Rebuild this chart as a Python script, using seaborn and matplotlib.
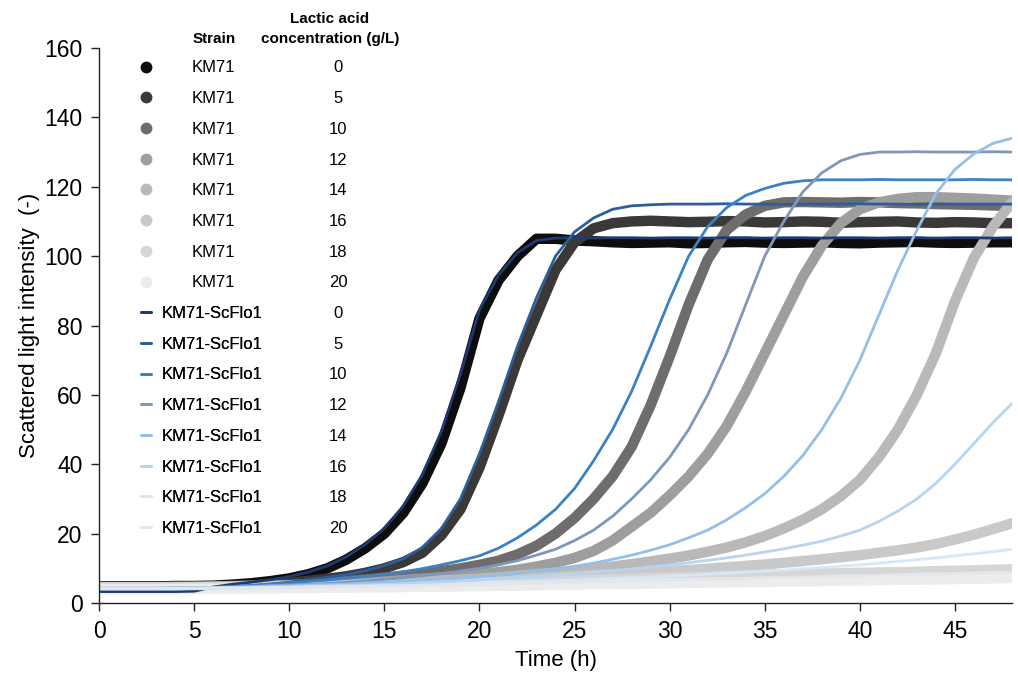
import matplotlib
matplotlib.use("Agg")
import matplotlib.pyplot as plt
from matplotlib.lines import Line2D
import pandas as pd
import seaborn as sns

# ---------------- data ----------------
time_h = list(range(0, 49))
concentrations = [0, 5, 10, 12, 14, 16, 18, 20]

km71_0 = [4.8, 4.8, 4.8, 4.8, 4.9, 4.9, 5.0, 5.3, 5.7, 6.3, 7.1, 8.3, 10.0, 12.5, 15.8, 20.0, 26.0, 34.5, 46.0, 62.0,
          82.0, 93.0, 100.0, 105.0, 105.0, 104.5, 104.3, 104.0, 103.8, 103.9, 104.0, 103.7, 103.8, 104.0, 104.1, 103.9,
          103.8, 103.9, 104.0, 103.8, 103.7, 103.9, 104.0, 104.1, 103.9, 103.8, 103.9, 104.0, 104.0]
km71_5 = [4.6, 4.6, 4.6, 4.6, 4.7, 4.7, 4.8, 4.9, 5.1, 5.4, 5.8, 6.4, 7.0, 7.7, 8.7, 10.0, 11.8, 14.5, 19.5, 27.0,
          39.0, 54.0, 70.0, 83.0, 96.0, 104.0, 108.0, 109.5, 110.0, 110.2, 110.0, 109.8, 109.9, 110.1, 110.0, 109.7,
          109.8, 110.0, 109.9, 109.6, 109.8, 109.9, 110.0, 109.7, 109.6, 109.8, 109.7, 109.5, 109.5]
km71_10 = [4.6, 4.6, 4.6, 4.6, 4.7, 4.7, 4.8, 4.9, 5.0, 5.1, 5.2, 5.5, 5.9, 6.3, 6.8, 7.3, 7.9, 8.5, 9.2, 10.0,
           11.0, 12.2, 14.0, 16.5, 20.0, 24.5, 30.0, 36.5, 45.0, 57.0, 71.0, 86.0, 99.0, 107.5, 112.0, 114.5,
           115.5, 115.6, 115.5, 115.4, 115.6, 115.5, 115.3, 115.2, 115.0, 114.9, 114.8, 114.6, 114.5]
km71_12 = [4.5, 4.5, 4.5, 4.5, 4.6, 4.6, 4.7, 4.8, 4.9, 5.0, 5.1, 5.2, 5.3, 5.6, 5.9, 6.2, 6.6, 7.0, 7.4, 7.8,
           8.3, 8.9, 9.6, 10.5, 11.6, 13.0, 15.0, 18.0, 22.0, 26.0, 31.0, 36.5, 43.0, 51.0, 61.0, 72.0,
           83.0, 94.0, 103.0, 109.5, 113.5, 115.5, 116.5, 117.0, 117.0, 116.8, 116.6, 116.3, 116.0]
km71_14 = [4.5, 4.5, 4.5, 4.5, 4.5, 4.6, 4.6, 4.7, 4.8, 4.9, 5.0, 5.0, 5.1, 5.3, 5.5, 5.7, 5.9, 6.2, 6.5, 6.7,
           7.0, 7.4, 7.9, 8.3, 8.8, 9.3, 9.9, 10.5, 11.2, 12.0, 12.8, 13.7, 14.8, 16.0, 17.5, 19.3,
           21.5, 24.0, 27.0, 30.8, 35.5, 42.0, 50.0, 60.0, 72.0, 87.0, 99.5, 108.5, 115.5]
km71_16 = [4.5, 4.5, 4.5, 4.5, 4.5, 4.5, 4.6, 4.6, 4.7, 4.8, 4.8, 4.9, 5.0, 5.0, 5.1, 5.2, 5.3, 5.5, 5.7, 5.9,
           6.2, 6.5, 6.8, 7.1, 7.4, 7.7, 8.0, 8.3, 8.6, 8.9, 9.2, 9.5, 9.9, 10.3, 10.7, 11.1,
           11.6, 12.1, 12.6, 13.2, 13.8, 14.5, 15.2, 16.0, 17.0, 18.3, 19.7, 21.3, 23.0]
km71_18 = [4.5, 4.5, 4.5, 4.5, 4.5, 4.5, 4.6, 4.6, 4.7, 4.7, 4.8, 4.8, 4.9, 5.0, 5.1, 5.1, 5.2, 5.3, 5.5, 5.6,
           5.8, 5.9, 6.1, 6.2, 6.4, 6.5, 6.7, 6.8, 7.0, 7.2, 7.3, 7.5, 7.6, 7.8, 7.9, 8.1,
           8.2, 8.3, 8.5, 8.6, 8.7, 8.8, 8.9, 9.0, 9.2, 9.3, 9.4, 9.6, 9.7]
km71_20 = [4.0, 4.0, 4.0, 4.0, 4.0, 4.1, 4.1, 4.1, 4.2, 4.2, 4.3, 4.3, 4.4, 4.4, 4.5, 4.5, 4.6, 4.7, 4.7, 4.8,
           4.9, 4.9, 5.0, 5.1, 5.2, 5.3, 5.4, 5.4, 5.5, 5.6, 5.7, 5.8, 5.9, 5.9, 6.0, 6.1,
           6.2, 6.2, 6.3, 6.4, 6.5, 6.6, 6.7, 6.7, 6.8, 6.9, 7.0, 7.1, 7.2]

scflo1_0 = [3.3, 3.3, 3.3, 3.3, 3.3, 3.4, 4.6, 5.4, 6.0, 6.7, 7.6, 8.9, 10.7, 13.3, 16.9, 21.5, 28.0, 37.0, 49.5, 66.0,
            84.5, 94.5, 101.0, 104.5, 105.2, 105.3, 105.2, 105.3, 105.3, 105.2, 105.3, 105.3, 105.2, 105.3, 105.3, 105.2,
            105.3, 105.3, 105.2, 105.3, 105.3, 105.2, 105.3, 105.3, 105.2, 105.3, 105.3, 105.2, 105.3]
scflo1_5 = [4.0, 4.0, 4.0, 4.0, 4.0, 4.1, 4.3, 4.6, 5.0, 5.5, 6.0, 6.7, 7.4, 8.2, 9.3, 10.8, 12.8, 16.0, 21.5, 30.0,
            43.0, 58.0, 74.0, 88.0, 100.0, 107.0, 111.0, 113.5, 114.5, 114.8, 115.0, 115.0, 115.0, 115.1, 115.0, 115.0,
            114.9, 115.0, 115.0, 115.0, 115.1, 115.0, 115.0, 114.9, 115.0, 115.0, 115.0, 115.0, 115.0]
scflo1_10 = [4.2, 4.2, 4.2, 4.2, 4.3, 4.3, 4.5, 4.8, 5.1, 5.4, 5.8, 6.2, 6.6, 7.1, 7.6, 8.2, 9.0, 9.9, 11.0, 12.2,
             13.6, 15.8, 18.8, 22.5, 27.0, 33.0, 41.0, 50.0, 61.0, 74.0, 87.5, 100.0, 108.5, 114.0, 117.5, 119.5,
             121.0, 121.7, 122.0, 122.0, 122.0, 122.1, 122.0, 122.0, 122.0, 122.0, 122.1, 122.0, 122.0]
scflo1_12 = [4.3, 4.3, 4.3, 4.3, 4.4, 4.4, 4.5, 4.6, 4.8, 5.0, 5.2, 5.4, 5.6, 6.0, 6.4, 6.8, 7.3, 7.9, 8.5, 9.2,
             10.0, 11.0, 12.2, 13.8, 15.5, 18.0, 21.0, 25.0, 30.0, 35.5, 42.0, 50.0, 60.0, 72.0, 86.0, 100.0,
             110.0, 118.5, 124.0, 127.5, 129.3, 130.0, 130.0, 130.1, 130.0, 130.0, 130.0, 130.1, 130.0]
scflo1_14 = [4.2, 4.2, 4.2, 4.2, 4.3, 4.3, 4.4, 4.5, 4.7, 4.9, 5.0, 5.2, 5.3, 5.5, 5.8, 6.0, 6.3, 6.6, 6.9, 7.2,
             7.6, 8.0, 8.5, 9.1, 9.8, 10.6, 11.5, 12.6, 13.8, 15.2, 16.8, 18.8, 21.0, 24.0, 27.5, 31.5,
             36.5, 42.5, 50.0, 59.0, 70.0, 83.0, 96.0, 107.5, 118.0, 125.0, 129.5, 132.5, 134.0]
scflo1_16 = [4.2, 4.2, 4.2, 4.2, 4.2, 4.3, 4.3, 4.4, 4.5, 4.6, 4.7, 4.9, 5.0, 5.1, 5.2, 5.4, 5.5, 5.8, 6.0, 6.3,
             6.6, 7.0, 7.3, 7.6, 8.0, 8.4, 8.9, 9.3, 9.8, 10.4, 11.0, 11.6, 12.3, 13.0, 13.8, 14.7,
             15.6, 16.7, 17.8, 19.3, 21.0, 23.5, 26.5, 30.0, 34.5, 40.0, 46.0, 52.0, 57.5]
scflo1_18 = [4.0, 4.0, 4.0, 4.0, 4.0, 4.1, 4.1, 4.2, 4.3, 4.4, 4.5, 4.6, 4.7, 4.8, 4.9, 5.0, 5.0, 5.2, 5.3, 5.5,
             5.6, 5.8, 6.0, 6.2, 6.4, 6.6, 6.8, 7.1, 7.3, 7.5, 7.8, 8.0, 8.3, 8.6, 8.9, 9.2,
             9.5, 9.9, 10.2, 10.6, 11.0, 11.5, 12.0, 12.5, 13.0, 13.6, 14.2, 14.8, 15.5]
scflo1_20 = [4.3, 4.3, 4.3, 4.3, 4.3, 4.3, 4.4, 4.4, 4.4, 4.5, 4.5, 4.6, 4.6, 4.7, 4.8, 4.8, 4.9, 5.0, 5.1, 5.2,
             5.3, 5.4, 5.6, 5.7, 5.8, 5.9, 6.0, 6.2, 6.3, 6.4, 6.6, 6.7, 6.9, 7.0, 7.1, 7.2,
             7.4, 7.5, 7.6, 7.8, 7.9, 8.0, 8.2, 8.3, 8.4, 8.5, 8.7, 8.8, 8.9]

km71_series = [km71_0, km71_5, km71_10, km71_12, km71_14, km71_16, km71_18, km71_20]
scflo1_series = [scflo1_0, scflo1_5, scflo1_10, scflo1_12, scflo1_14, scflo1_16, scflo1_18, scflo1_20]

strain_names = ["KM71", "KM71-ScFlo1"]
km71_colors = ["#0d0d0d", "#3b3838", "#6e6c6c", "#9e9e9e", "#b9b9b9", "#c9c9c9", "#d6d6d6", "#ececec"]
scflo1_colors = ["#1f3a70", "#2b5f9c", "#3b82c4", "#7f97b8", "#93bfe8", "#b7d4f0", "#d8e7f5", "#e3e6ec"]

# ---------------- build tables ----------------
def long_table(strain, series_list):
    rows = []
    for conc, vals in zip(concentrations, series_list):
        for t, v in zip(time_h, vals):
            rows.append({"Strain": strain, "Conc": conc, "Series": f"{strain} {conc}",
                         "Time": t, "Value": v})
    return pd.DataFrame(rows)

df_km = long_table(strain_names[0], km71_series)
df_sc = long_table(strain_names[1], scflo1_series)
km_order = [f"{strain_names[0]} {c}" for c in concentrations]
sc_order = [f"{strain_names[1]} {c}" for c in concentrations]

# ---------------- style ----------------
sns.set_style("ticks")
plt.rcParams["font.family"] = ["Liberation Sans", "DejaVu Sans"]
plt.rcParams["axes.edgecolor"] = "#222222"
plt.rcParams["axes.linewidth"] = 1.0
plt.rcParams["text.color"] = "black"
plt.rcParams["axes.labelcolor"] = "black"
plt.rcParams["xtick.color"] = "#222222"
plt.rcParams["ytick.color"] = "#222222"
plt.rcParams["xtick.labelcolor"] = "black"
plt.rcParams["ytick.labelcolor"] = "black"

fig = plt.figure(figsize=(10.18, 6.77), dpi=100)
ax = fig.add_axes([0.0973, 0.1093, 0.8968, 0.8198])

sns.lineplot(data=df_km, x="Time", y="Value", hue="Series", hue_order=km_order,
             palette=dict(zip(km_order, km71_colors)), linewidth=7.5,
             solid_capstyle="round", solid_joinstyle="round",
             estimator=None, sort=False, legend=False, ax=ax)
sns.lineplot(data=df_sc, x="Time", y="Value", hue="Series", hue_order=sc_order,
             palette=dict(zip(sc_order, scflo1_colors)), linewidth=2.0,
             estimator=None, sort=False, legend=False, ax=ax)

ax.set_xlim(0, 48)
ax.set_ylim(0, 160)
ax.set_xticks(range(0, 50, 5))
ax.set_yticks(range(0, 161, 20))
ax.tick_params(axis="both", labelsize=16.5, length=6, width=1.0, pad=6)
ax.set_xlabel("Time (h)", fontsize=16, labelpad=5)
ax.set_ylabel("Scattered light intensity  (-)", fontsize=16, labelpad=3)
sns.despine(ax=ax)

# ---------------- legend table ----------------
fs_leg = 12
fs_px = fs_leg * fig.dpi / 72.0
hl = 0.6
key_left_px = 141 - 99
key_x = key_left_px / 913.0
pad_km = (192 - 141 - hl * fs_px) / fs_px
pad_sc = (162 - 141 - hl * fs_px) / fs_px
pitch_target = 30.7
first_row_y = (603 - 68) / 555.0

km_handles = [Line2D([], [], linestyle="none", marker="o", markersize=7.5, color=c) for c in km71_colors]
sc_handles = [Line2D([], [], color=c, lw=2) for c in scflo1_colors]


def make_leg(handles, labels, top, pad, ls):
    return ax.legend(handles, labels, loc="upper left", bbox_to_anchor=(key_x, top),
                     bbox_transform=ax.transAxes, frameon=False, fontsize=fs_leg,
                     handlelength=hl, handletextpad=pad, borderpad=0, borderaxespad=0,
                     labelspacing=ls)


def centre_y(t, r):
    bb = t.get_window_extent(r)
    return 0.5 * (bb.y0 + bb.y1)


ls = 1.0
leg1 = make_leg(km_handles, [strain_names[0]] * 8, 0.98, pad_km, ls)
fig.canvas.draw()
r = fig.canvas.get_renderer()
tx = leg1.get_texts()
pitch = centre_y(tx[0], r) - centre_y(tx[1], r)
ls = ls + (pitch_target - pitch) / fs_px
leg1.remove()
leg1 = make_leg(km_handles, [strain_names[0]] * 8, 0.98, pad_km, ls)
fig.canvas.draw()
c0_ax = ax.transAxes.inverted().transform((0, centre_y(leg1.get_texts()[0], r)))[1]
leg1.remove()
top1 = 0.98 + (first_row_y - c0_ax)
leg1 = make_leg(km_handles, [strain_names[0]] * 8, top1, pad_km, ls)
ax.add_artist(leg1)
fig.canvas.draw()
bb1 = leg1.get_window_extent(r)
top2_px = bb1.y0 - ls * fs_px
top2 = ax.transAxes.inverted().transform((0, top2_px))[1]
leg2 = make_leg(sc_handles, [strain_names[1]] * 8, top2, pad_sc, ls)
ax.add_artist(leg2)
fig.canvas.draw()

conc_x = (338 - 99) / 913.0
for t, c in zip(list(leg1.get_texts()) + list(leg2.get_texts()), concentrations + concentrations):
    yc = ax.transAxes.inverted().transform((0, centre_y(t, r)))[1]
    ax.text(conc_x, yc, str(c), transform=ax.transAxes, ha="center", va="center", fontsize=fs_leg)

ax.text((214 - 99) / 913.0, (603 - 43) / 555.0, "Strain", transform=ax.transAxes,
        ha="center", va="baseline", fontsize=11, fontweight="bold", clip_on=False)
ax.text((330 - 99) / 913.0, (603 - 23) / 555.0, "Lactic acid", transform=ax.transAxes,
        ha="center", va="baseline", fontsize=11, fontweight="bold", clip_on=False)
ax.text((330 - 99) / 913.0, (603 - 43) / 555.0, "concentration (g/L)", transform=ax.transAxes,
        ha="center", va="baseline", fontsize=11, fontweight="bold", clip_on=False)

fig.savefig("out.png", dpi=100)
